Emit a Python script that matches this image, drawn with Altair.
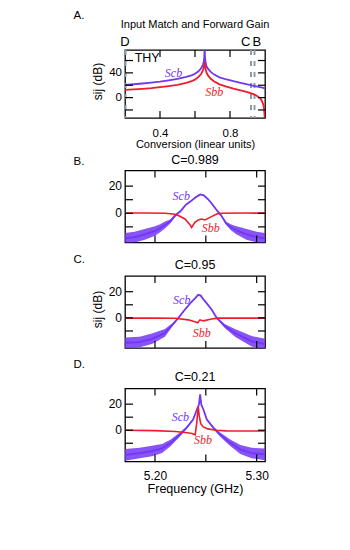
import altair as alt
import pandas as pd

PURPLE = "#7236F4"
RED = "#EE1C2C"
GREY = "#8C9AA6"
FONT = "Liberation Sans"
SERIF = "Liberation Serif"

# ---------------- Panel A (theory) ----------------
A_conv = [0.20, 0.25, 0.30, 0.35, 0.40, 0.45, 0.50, 0.55, 0.58, 0.60,
          0.62, 0.635, 0.645, 0.65, 0.653, 0.655, 0.657, 0.66, 0.665, 0.675,
          0.69, 0.71, 0.74, 0.78, 0.82, 0.86, 0.90, 0.93, 0.95, 0.97,
          0.98, 0.99, 0.995, 1.0]
A_scb = [20.5, 21.6, 22.8, 24.2, 25.8, 28.0, 30.3, 33.5, 36.0, 38.5,
         42.5, 47.5, 53.0, 58.0, 65.0, 85.0, 66.0, 58.0, 51.0, 46.5,
         41.5, 37.2, 32.8, 29.3, 26.5, 24.0, 21.2, 19.5, 18.3, 17.0,
         16.4, 15.8, 15.4, 15.0]
A_sbb = [12.5, 13.3, 14.2, 15.3, 16.8, 18.5, 20.5, 23.8, 26.5, 29.0,
         33.5, 38.0, 44.0, 48.5, 53.0, 57.5, 52.0, 47.0, 41.0, 35.5,
         30.5, 26.0, 21.5, 17.8, 14.5, 11.8, 8.8, 6.0, 3.5, -0.5,
         -4.0, -11.0, -18.0, -40.0]
A_marker_x = [0.203, 0.92, 0.94]
A_marker_lbl = ["D", "C", "B"]
A_marker_lbl_x = [0.2, 0.89, 0.953]
A_xticks = [0.4, 0.6, 0.8]
A_yticks = [-20, 0, 20, 40, 60]
A_ylabels = [0, 40]

# ---------------- Panel B: C=0.989 ----------------
B_f = [5.1705, 5.18, 5.19, 5.20, 5.205, 5.21, 5.215, 5.22, 5.225, 5.23,
       5.235, 5.24, 5.2445, 5.248, 5.252, 5.256, 5.26, 5.265, 5.27, 5.275,
       5.28, 5.285, 5.29, 5.30, 5.3082]
B_scb = [-18.5, -17.5, -15.5, -13.0, -11.0, -8.5, -6.0, -1.5, 1.5, 6.0,
         8.8, 11.8, 13.9, 13.2, 10.5, 7.0, 3.0, -1.5, -7.5, -10.5,
         -12.5, -14.0, -15.5, -17.5, -18.5]
B_noise = [4.0, 4.0, 4.0, 3.5, 3.0, 2.5, 1.5, 1.0, 0.6, 0.5,
           0.5, 0.5, 0.5, 0.5, 0.5, 0.5, 0.5, 0.6, 1.2, 2.2,
           3.0, 3.5, 4.0, 4.0, 4.0]
B_f_bb = [5.1705, 5.19, 5.21, 5.218, 5.223, 5.2295, 5.2344, 5.236, 5.2393, 5.2426,
          5.2459, 5.2492, 5.2541, 5.2607, 5.2656, 5.29, 5.3082]
B_sbb = [0.2, 0.2, 0.0, -0.5, -1.7, -4.2, -8.4, -10.4, -6.7, -4.9,
         -4.2, -4.9, -3.0, -0.5, 0.0, 0.2, 0.1]

# ---------------- Panel C: C=0.95 ----------------
C_f = [5.1705, 5.185, 5.197, 5.2098, 5.218, 5.223, 5.2295, 5.236, 5.240, 5.2425,
       5.245, 5.2475, 5.2492, 5.2557, 5.2607, 5.2689, 5.2787, 5.295, 5.3082]
C_scb = [-19.0, -18.5, -16.0, -11.5, -4.5, 0.0, 6.4, 12.3, 15.5, 17.6,
         17.0, 14.2, 12.8, 6.4, 0.0, -6.4, -11.5, -17.9, -20.0]
C_noise = [4.0, 4.0, 4.0, 3.0, 1.0, 0.5, 0.5, 0.5, 0.5, 0.5,
           0.5, 0.5, 0.5, 0.5, 0.5, 1.5, 3.0, 4.0, 4.0]
C_f_bb = [5.1705, 5.20, 5.22, 5.2328, 5.2393, 5.242, 5.2443, 5.2476, 5.2557, 5.262, 5.3082]
C_sbb = [-0.2, -0.2, -0.3, -1.5, -3.0, -3.8, -1.5, -2.3, -0.9, -0.2, -0.2]

# ---------------- Panel D: C=0.21 ----------------
D_f = [5.1705, 5.185, 5.197, 5.207, 5.2155, 5.2245, 5.231, 5.2375, 5.2412, 5.2432,
       5.2444, 5.2456, 5.2476, 5.251, 5.2575, 5.264, 5.274, 5.284, 5.295, 5.3082]
D_scb = [-19.0, -17.5, -16.0, -14.0, -9.7, -3.3, 1.8, 8.2, 15.9, 19.5,
         27.5, 19.5, 15.9, 8.2, 1.8, -3.3, -9.7, -14.8, -17.5, -18.5]
D_noise = [4.5, 4.0, 4.0, 3.5, 2.5, 1.5, 0.8, 0.5, 0.5, 0.5,
           0.5, 0.5, 0.5, 0.5, 0.8, 1.5, 2.5, 3.5, 4.0, 4.5]
D_f_bb = [5.1705, 5.20, 5.22, 5.23, 5.2365, 5.2395, 5.241, 5.2425, 5.2435, 5.245,
          5.2475, 5.252, 5.26, 5.27, 5.3082]
D_sbb = [0.0, -0.3, -1.0, -1.8, -2.5, -3.5, 5.0, 18.5, 11.0, 5.0,
         2.5, 1.0, 0.0, -0.5, -0.6]

F_xticks = [5.20, 5.25, 5.30]
F_yticks = [-10, 0, 10, 20]
F_ylabels = [0, 20]

W = 140


def axis_common(**kw):
    base = dict(ticks=False, domain=False, grid=False, tickSize=0, labelAngle=0,
                labelFont=FONT, titleFont=FONT, labelColor="black",
                titleColor="black", titleFontWeight="normal")
    base.update(kw)
    return alt.Axis(**base)


def y_title_axis(h):
    return alt.Axis(labels=False, ticks=False, domain=False, grid=False, tickSize=0,
                    title="sij (dB)", titleFont=FONT, titleFontSize=12, titleColor="black",
                    titleFontWeight="normal", titlePadding=21, titleY=h / 2 - 3)


def panel(h, X, Y, xticks, yticks, ylabels, lab_size, layers, letter, letter_y,
          title, title_y, title_size):
    frame = []
    frame.append(alt.Chart(pd.DataFrame({"y": yticks})).mark_rule(color="black", strokeWidth=1.2)
                 .encode(y=Y, x=alt.value(0), x2=alt.value(8)))
    frame.append(alt.Chart(pd.DataFrame({"y": yticks})).mark_rule(color="black", strokeWidth=1.2)
                 .encode(y=Y, x=alt.value(W - 7), x2=alt.value(W)))
    frame.append(alt.Chart(pd.DataFrame({"x": xticks})).mark_rule(color="black", strokeWidth=1.2)
                 .encode(x=X, y=alt.value(0), y2=alt.value(7)))
    frame.append(alt.Chart(pd.DataFrame({"x": xticks})).mark_rule(color="black", strokeWidth=1.2)
                 .encode(x=X, y=alt.value(h - 7), y2=alt.value(h)))
    extra = []
    extra.append(alt.Chart(pd.DataFrame({"y": ylabels, "t": [str(v) for v in ylabels]})).mark_text(
        align="right", baseline="middle", font=FONT, fontSize=lab_size, color="black"
    ).encode(y=Y, x=alt.value(-3), text="t:N"))
    extra.append(alt.Chart(pd.DataFrame({"t": [letter]})).mark_text(
        align="left", baseline="middle", font=FONT, fontSize=11.5, color="black"
    ).encode(x=alt.value(-51.5), y=alt.value(letter_y), text="t:N"))
    extra.append(alt.Chart(pd.DataFrame({"t": [title]})).mark_text(
        align="center", baseline="middle", font=FONT, fontSize=title_size, color="black"
    ).encode(x=alt.value(W / 2), y=alt.value(title_y), text="t:N"))
    return alt.layer(*layers, *frame, *extra).properties(width=W, height=h)


def series_line(xs, ys, color, X, Y, width=1.8):
    df = pd.DataFrame({"x": xs, "y": ys})
    return alt.Chart(df).mark_line(color=color, strokeWidth=width, clip=True).encode(x=X, y=Y)


def noisy(xs, ys, noise, color, X, Y):
    df = pd.DataFrame({"x": xs, "y": [a - b for a, b in zip(ys, noise)],
                       "y2": [a + b for a, b in zip(ys, noise)]})
    band = alt.Chart(df).mark_area(color=color, opacity=0.85, clip=True).encode(x=X, y=Y, y2="y2:Q")
    return [band, series_line(xs, ys, color, X, Y)]


def tag(text, x, y, color, X, Y):
    df = pd.DataFrame({"x": [x], "y": [y], "t": [text]})
    return alt.Chart(df).mark_text(font=SERIF, fontStyle="italic", fontSize=12,
                                   color=color, align="center", baseline="middle").encode(
        x=X, y=Y, text="t:N")


# ---------- Panel A ----------
XA = alt.X("x:Q", scale=alt.Scale(domain=[0.2, 1.0], nice=False, zero=False),
           axis=axis_common(values=[0.4, 0.8], format=".1f", title="Conversion (linear units)",
                            labelFontSize=11.5, titleFontSize=11, labelPadding=9, titlePadding=0))
YA = alt.Y("y:Q", scale=alt.Scale(domain=[-33, 77], nice=False, zero=False), axis=y_title_axis(68))
A_layers = [
    alt.Chart(pd.DataFrame({"x": A_marker_x})).mark_rule(color=GREY, strokeWidth=2, strokeDash=[5, 6])
    .encode(x=XA, y=alt.value(0), y2=alt.value(68)),
    series_line(A_conv, A_scb, PURPLE, XA, YA),
    series_line(A_conv, A_sbb, RED, XA, YA),
    tag("Scb", 0.477, 40.5, PURPLE, XA, YA),
    tag("Sbb", 0.71, 9.7, RED, XA, YA),
    alt.Chart(pd.DataFrame({"x": [0.255], "y": [64.3], "t": ["THY"]})).mark_text(
        font=FONT, fontSize=12.5, align="left", baseline="middle", color="black"
    ).encode(x=XA, y=YA, text="t:N"),
    alt.Chart(pd.DataFrame({"x": A_marker_lbl_x, "t": A_marker_lbl})).mark_text(
        font=FONT, fontSize=13, align="center", baseline="middle", color="black"
    ).encode(x=XA, y=alt.value(-8.3), text="t:N"),
]
panelA = panel(68, XA, YA, A_xticks, A_yticks, A_ylabels, 11.5, A_layers, "A.", -34.5,
               "Input Match and Forward Gain", -25, 11)

# ---------- Panels B, C, D ----------
FSCALE = alt.Scale(domain=[5.1705, 5.3082], nice=False, zero=False)


def fx(show):
    if show:
        return alt.X("x:Q", scale=FSCALE,
                     axis=axis_common(values=[5.20, 5.30], format=".2f", title="Frequency (GHz)",
                                      labelFontSize=12, titleFontSize=12.5,
                                      labelPadding=9, titlePadding=1))
    return alt.X("x:Q", scale=FSCALE, axis=None)


def fy(dom, h=0, with_title=False):
    if with_title:
        return alt.Y("y:Q", scale=alt.Scale(domain=dom, nice=False, zero=False), axis=y_title_axis(h))
    return alt.Y("y:Q", scale=alt.Scale(domain=dom, nice=False, zero=False), axis=None)


XB, YB = fx(False), fy([-21.5, 31.5])
panelB = panel(72, XB, YB, F_xticks, F_yticks, F_ylabels, 12,
               noisy(B_f, B_scb, B_noise, PURPLE, XB, YB)
               + [series_line(B_f_bb, B_sbb, RED, XB, YB, 1.6),
                  tag("Scb", 5.2258, 12.6, PURPLE, XB, YB),
                  tag("Sbb", 5.2548, -10.8, RED, XB, YB)],
               "B.", -8.5, "C=0.989", -10.7, 12.5)

XC, YC = fx(False), fy([-23, 32], 72, True)
panelC = panel(72, XC, YC, F_xticks, F_yticks, F_ylabels, 12,
               noisy(C_f, C_scb, C_noise, PURPLE, XC, YC)
               + [series_line(C_f_bb, C_sbb, RED, XC, YC, 1.6),
                  tag("Scb", 5.2263, 13.4, PURPLE, XC, YC),
                  tag("Sbb", 5.2459, -11.5, RED, XC, YC)],
               "C.", -16.5, "C=0.95", -11, 12.5)

XD, YD = fx(True), fy([-24, 32])
panelD = panel(73, XD, YD, F_xticks, F_yticks, F_ylabels, 12,
               noisy(D_f, D_scb, D_noise, PURPLE, XD, YD)
               + [series_line(D_f_bb, D_sbb, RED, XD, YD, 1.6),
                  tag("Scb", 5.225, 9.8, PURPLE, XD, YD),
                  tag("Sbb", 5.2472, -7.7, RED, XD, YD)],
               "D.", -23.7, "C=0.21", -12, 12.5)

chart = alt.vconcat(
    panelA,
    alt.vconcat(panelB, panelC, panelD, spacing=7.5),
    spacing=1.5,
).properties(
    padding={"left": 64, "top": 0, "right": 5, "bottom": 5}
).configure_view(stroke="black", strokeWidth=1.3)

chart.save("out.html", embed_options={"renderer": "svg", "actions": False})
